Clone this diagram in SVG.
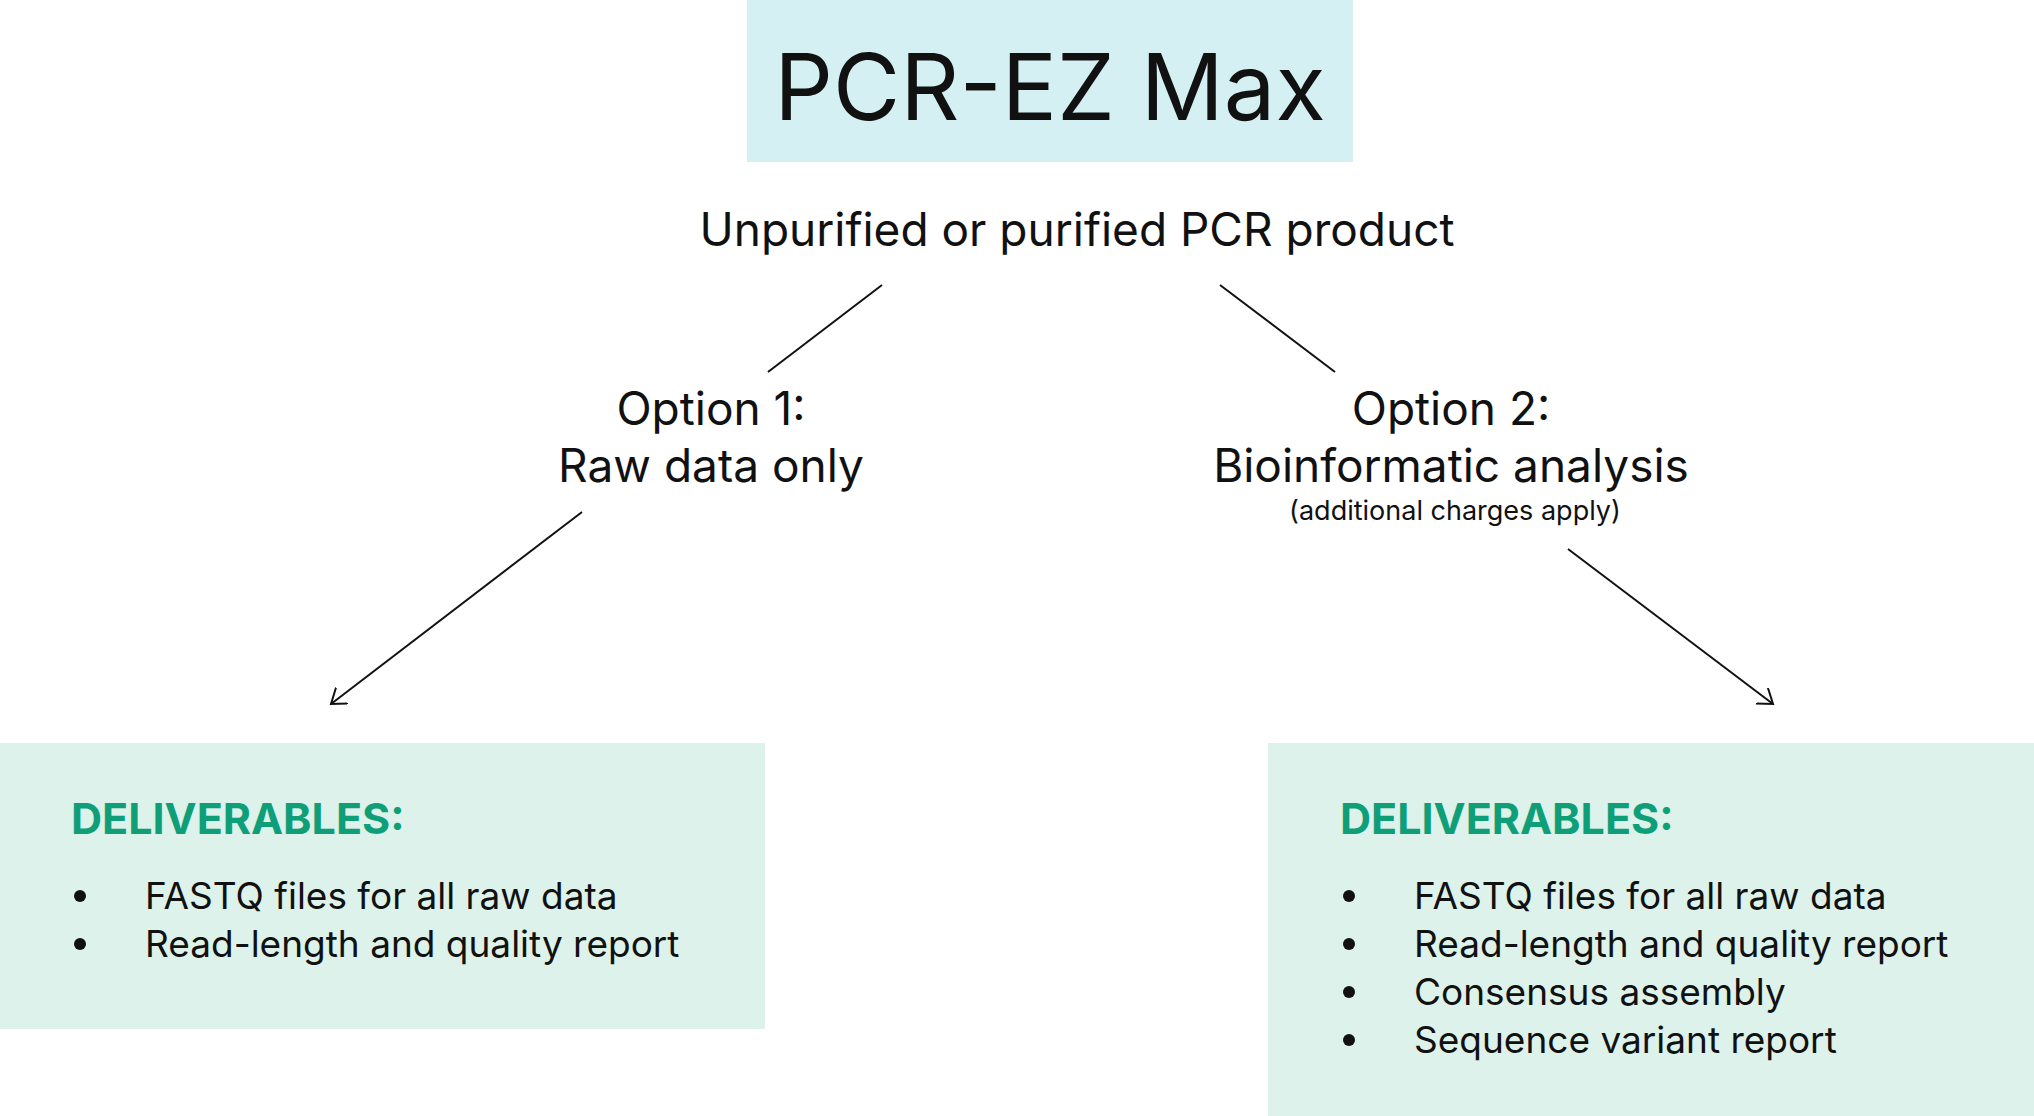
<svg xmlns="http://www.w3.org/2000/svg" width="2034" height="1116" viewBox="0 0 2034 1116">
<style>
text{font-family:"Inter","Liberation Sans",sans-serif;fill:#111}
.big{font-size:46px;text-anchor:middle}
.h{font-size:43px;font-weight:bold;fill:#0e9f78}
.li{font-size:37px}
.c{stroke:#111;stroke-width:2;fill:none}
</style>
<defs><marker id="a" markerWidth="30" markerHeight="30" refX="14" refY="10" orient="auto" markerUnits="userSpaceOnUse"><path d="M0,0 L14,10 L0,20" fill="none" stroke="#111" stroke-width="2"/></marker></defs>
<rect width="2034" height="1116" fill="#fff"/>
<g id="title"><rect x="747" y="0" width="606" height="162" fill="#d4f0f3"/><text x="1050" y="120" style="font-size:92px;text-anchor:middle">PCR-EZ Max</text></g>
<g id="input"><text class="big" x="1077" y="246">Unpurified or purified PCR product</text></g>
<g id="opt1"><text class="big" x="711" y="425">Option 1:</text><text class="big" x="711" y="482">Raw data only</text></g>
<g id="opt2"><text class="big" x="1451" y="425">Option 2:</text><text class="big" x="1451" y="482">Bioinformatic analysis</text><text x="1455" y="520" style="font-size:27px;text-anchor:middle">(additional charges apply)</text></g>
<g id="del1"><rect x="0" y="743" width="765" height="286" fill="#dcf2ea"/><text class="h" x="71" y="834">DELIVERABLES:</text>
<g class="li"><circle cx="80" cy="896" r="6" fill="#111"/><text class="li" x="145" y="909">FASTQ files for all raw data</text><circle cx="80" cy="944" r="6" fill="#111"/><text class="li" x="145" y="957">Read-length and quality report</text></g></g>
<g id="del2"><rect x="1268" y="743" width="766" height="373" fill="#dcf2ea"/><text class="h" x="1340" y="834">DELIVERABLES:</text>
<circle cx="1349" cy="896" r="6" fill="#111"/><text class="li" x="1414" y="909">FASTQ files for all raw data</text>
<circle cx="1349" cy="944" r="6" fill="#111"/><text class="li" x="1414" y="957">Read-length and quality report</text>
<circle cx="1349" cy="992" r="6" fill="#111"/><text class="li" x="1414" y="1005">Consensus assembly</text>
<circle cx="1349" cy="1040" r="6" fill="#111"/><text class="li" x="1414" y="1053">Sequence variant report</text></g>
<g id="connectors">
<line class="c" x1="882" y1="285" x2="768" y2="372"/>
<line class="c" x1="1220" y1="285" x2="1335" y2="372"/>
<line class="c" x1="582" y1="512" x2="331" y2="704" marker-end="url(#a)"/>
<line class="c" x1="1568" y1="549" x2="1773" y2="704" marker-end="url(#a)"/>
</g>
</svg>
